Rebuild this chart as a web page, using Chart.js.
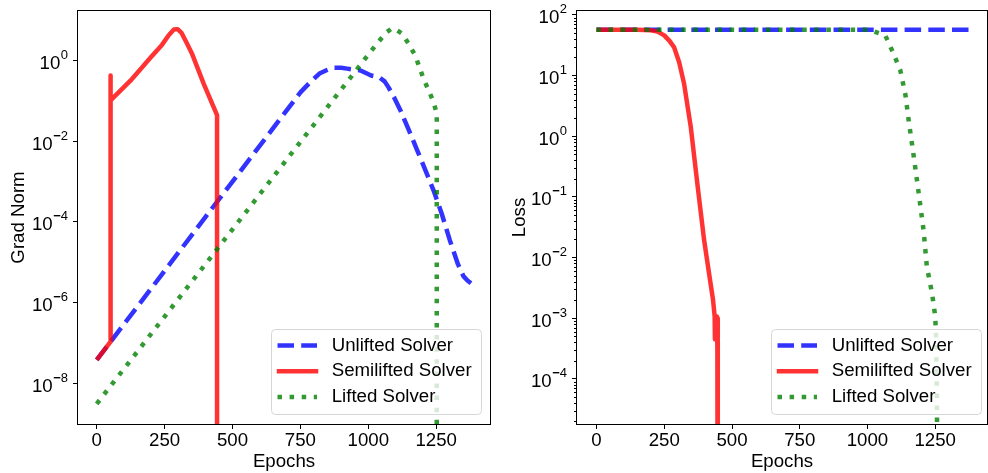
<!DOCTYPE html>
<html>
<head>
<meta charset="utf-8">
<script src="https://cdn.jsdelivr.net/npm/chart.js@4.4.0/dist/chart.umd.min.js"></script>
<style>
  body { margin: 0; background: #fff; }
  #wrap { position: relative; width: 988px; height: 473px; }
  .panel { position: absolute; top: 0; width: 494px; height: 473px; }
</style>
</head>
<body>
<div id="wrap">
  <div class="panel" style="left:0"><canvas id="grad-chart" width="494" height="473"></canvas></div>
  <div class="panel" style="left:494px"><canvas id="loss-chart" width="494" height="473"></canvas></div>
</div>
<script>
const solverLabels = ["Unlifted Solver", "Semilifted Solver", "Lifted Solver"];
const xTicks = [0, 250, 500, 750, 1000, 1250];
const gradTicks = [1e-8, 1e-6, 1e-4, 1e-2, 1];
const lossTicks = [1e-4, 1e-3, 1e-2, 1e-1, 1, 10, 100];

// grad norm per epoch
const gradUnliftedEpochs = [0, 51, 200, 400, 600, 750, 780, 820, 850, 871, 900, 922, 971, 995, 1010, 1040, 1060, 1075, 1095, 1118, 1150, 1180, 1210, 1240, 1270, 1300, 1330, 1350, 1365, 1378];
const gradUnliftedValues = [3.8e-8, 1.07e-7, 2.2e-6, 1.3e-4, 7.6e-3, 0.16, 0.26, 0.47, 0.58, 0.65, 0.65, 0.62, 0.56, 0.47, 0.42, 0.38, 0.30, 0.21, 0.12, 0.058, 0.018, 5.9e-3, 1.9e-3, 6e-4, 1.6e-4, 3.5e-5, 8.9e-6, 4.5e-6, 3.5e-6, 3.0e-6];
const gradSemiEpochs = [0, 51, 51, 51, 125, 200, 240, 265, 284, 298, 312, 330, 350, 394, 443, 443];
const gradSemiValues = [3.8e-8, 1.07e-7, 0.42, 0.102, 0.316, 1.2, 2.4, 4.17, 5.75, 5.9, 4.8, 2.8, 1.5, 0.26, 0.044, 1e-12];
const gradLiftedEpochs = [0, 250, 500, 750, 1000, 1040, 1065, 1087, 1105, 1124, 1148, 1173, 1203, 1222, 1240, 1252, 1252];
const gradLiftedValues = [3.1e-9, 4.5e-7, 6.5e-5, 9.5e-3, 1.38, 3.0, 4.8, 6.2, 5.6, 4.6, 2.6, 1.3, 0.35, 0.18, 0.093, 0.048, 1e-12];

// loss per epoch
const lossUnliftedEpochs = [0, 1378];
const lossUnliftedValues = [57, 57];
const lossSemiEpochs = [0, 150, 200, 225, 250, 270, 286, 305, 323, 348, 372, 397, 415, 430, 436, 437, 440, 444, 446, 447, 448];
const lossSemiValues = [57, 57, 56, 53, 46, 37, 29.5, 16.6, 7.4, 1.41, 0.166, 0.0195, 5.6e-3, 2e-3, 1.07e-3, 4.5e-4, 1e-3, 1.07e-3, 3.2e-4, 1e-3, 1e-8];
const lossLiftedEpochs = [0, 1000, 1022, 1066, 1096, 1121, 1140, 1152, 1164, 1176, 1189, 1207, 1219, 1238, 1250, 1253, 1256, 1258];
const lossLiftedValues = [57, 57, 54, 45.7, 23, 12.3, 4.8, 1.82, 0.76, 0.31, 0.115, 0.028, 7.1e-3, 2.6e-3, 1.07e-3, 5e-4, 6e-5, 1e-6];

const FONT = '"Liberation Sans", Arial, sans-serif';
Chart.defaults.font.family = FONT;
Chart.defaults.color = '#000';

function pts(xs, ys) { return xs.map((x, i) => ({x: x, y: ys[i]})); }

function makeSets(series) {
  const styles = [
    {borderColor: 'rgba(0,0,255,0.8)', borderDash: [16.5, 7.2], order: 3},
    {borderColor: 'rgba(255,0,0,0.8)', borderDash: [], order: 2},
    {borderColor: 'rgba(0,128,0,0.8)', borderDash: [4.5, 7.6], order: 1}
  ];
  return series.map((s, i) => Object.assign({
    label: solverLabels[i],
    data: s,
    borderWidth: 4.5,
    pointRadius: 0,
    borderJoinStyle: 'round',
    fill: false,
    clip: 0
  }, styles[i]));
}

const deco = {
  id: 'deco',
  afterDraw(chart, args, opts) {
    const ctx = chart.ctx, a = chart.chartArea, ys = chart.scales.y;
    ctx.save();
    // frame
    ctx.strokeStyle = '#000';
    ctx.lineWidth = 1;
    ctx.strokeRect(Math.round(a.left) - 0.5, Math.round(a.top) - 0.5, Math.round(a.right - a.left) + 1, Math.round(a.bottom - a.top) + 1);
    // minor ticks
    if (opts.minor) {
      ctx.beginPath();
      for (let n = -6; n <= 2; n++) {
        for (let k = 2; k <= 9; k++) {
          const v = k * Math.pow(10, n);
          if (v < ys.min || v > ys.max) continue;
          const py = Math.round(ys.getPixelForValue(v)) + 0.5;
          ctx.moveTo(a.left - 3, py);
          ctx.lineTo(a.left, py);
        }
      }
      ctx.stroke();
    }
    // y tick labels 10^n
    ctx.fillStyle = '#000';
    ctx.textBaseline = 'alphabetic';
    opts.ticks.forEach(v => {
      const e = Math.round(Math.log10(v));
      const py = ys.getPixelForValue(v);
      const xr = a.left - 10;
      ctx.textAlign = 'left';
      ctx.font = '13px ' + FONT;
      const digits = String(Math.abs(e));
      const dw = ctx.measureText(digits).width;
      let x = xr - dw;
      ctx.fillText(digits, x, py - 1.5);
      if (e < 0) {
        ctx.font = 'bold 13px ' + FONT;
        const mw = ctx.measureText('\u2212').width;
        x -= mw;
        ctx.fillText('\u2212', x, py - 1.5);
      }
      ctx.font = '18.67px ' + FONT;
      ctx.textAlign = 'right';
      ctx.fillText('10', x - 0.5, py + 8.5);
    });
    // legend
    const w = 210, h = 85;
    const x0 = a.right - opts.legendGap - w, y0 = a.bottom - 10 - h;
    ctx.beginPath();
    ctx.roundRect(x0 + 0.5, y0 + 0.5, w, h, 4);
    ctx.fillStyle = 'rgba(255,255,255,0.8)';
    ctx.fill();
    ctx.strokeStyle = '#d6d6d6';
    ctx.stroke();
    chart.data.datasets.forEach((ds, i) => {
      const cy = y0 + 16.5 + 25.8 * i;
      ctx.beginPath();
      ctx.setLineDash(ds.borderDash);
      ctx.strokeStyle = ds.borderColor;
      ctx.lineWidth = ds.borderWidth;
      ctx.lineCap = i === 1 ? 'square' : 'butt';
      ctx.moveTo(x0 + (i === 1 ? 8 : 6.5), cy);
      ctx.lineTo(x0 + (i === 1 ? 45 : 46), cy);
      ctx.stroke();
      ctx.setLineDash([]);
      ctx.fillStyle = '#000';
      ctx.font = '18.67px ' + FONT;
      ctx.textAlign = 'left';
      ctx.textBaseline = 'middle';
      ctx.fillText(ds.label, x0 + 60.7, cy);
    });
    ctx.restore();
  }
};

function makeChart(id, series, cfg) {
  return new Chart(document.getElementById(id), {
    type: 'line',
    data: {datasets: makeSets(series)},
    plugins: [deco],
    options: {
      responsive: false,
      animation: false,
      events: [],
      layout: {padding: {top: 11, right: cfg.padRight, left: 0, bottom: 0}},
      plugins: {
        legend: {display: false},
        tooltip: {enabled: false},
        deco: {ticks: cfg.yTicks, minor: cfg.minor, legendGap: cfg.legendGap}
      },
      scales: {
        x: {
          type: 'linear',
          min: cfg.xMin,
          max: cfg.xMax,
          afterBuildTicks: s => { s.ticks = xTicks.map(v => ({value: v})); },
          afterFit: s => { s.height = 49; },
          ticks: {font: {size: 18.67}, padding: 1, maxRotation: 0, autoSkip: false, callback: v => String(v)},
          grid: {display: true, drawOnChartArea: false, drawTicks: true, tickLength: 5, tickColor: '#000', tickWidth: 1},
          border: {display: false},
          title: {display: true, text: 'Epochs', font: {size: 18.67}, padding: {top: 0, bottom: 0}}
        },
        y: {
          type: 'logarithmic',
          min: cfg.yMin,
          max: cfg.yMax,
          afterBuildTicks: s => { s.ticks = cfg.yTicks.map(v => ({value: v, major: true})); },
          afterFit: s => { s.width = cfg.yWidth; },
          ticks: {display: false},
          grid: {display: true, drawOnChartArea: false, drawTicks: true, tickLength: 5, tickColor: '#000', tickWidth: 1},
          border: {display: false},
          title: {display: true, text: cfg.yTitle, font: {size: 18.67}, padding: {top: cfg.titlePad, bottom: 0}}
        }
      }
    }
  });
}

makeChart('grad-chart', [
  pts(gradUnliftedEpochs, gradUnliftedValues),
  pts(gradSemiEpochs, gradSemiValues),
  pts(gradLiftedEpochs, gradLiftedValues)
], {xMin: -69, xMax: 1448, yMin: 9.8e-10, yMax: 16.6, yTicks: gradTicks, yWidth: 78, padRight: 4,
    yTitle: 'Grad Norm', titlePad: 7.3, minor: false, legendGap: 9});

makeChart('loss-chart', [
  pts(lossUnliftedEpochs, lossUnliftedValues),
  pts(lossSemiEpochs, lossSemiValues),
  pts(lossLiftedEpochs, lossLiftedValues)
], {xMin: -72, xMax: 1441, yMin: 1.8e-5, yMax: 116, yTicks: lossTicks, yWidth: 83, padRight: 1,
    yTitle: 'Loss', titlePad: 14.3, minor: true, legendGap: 6});
</script>
</body>
</html>
